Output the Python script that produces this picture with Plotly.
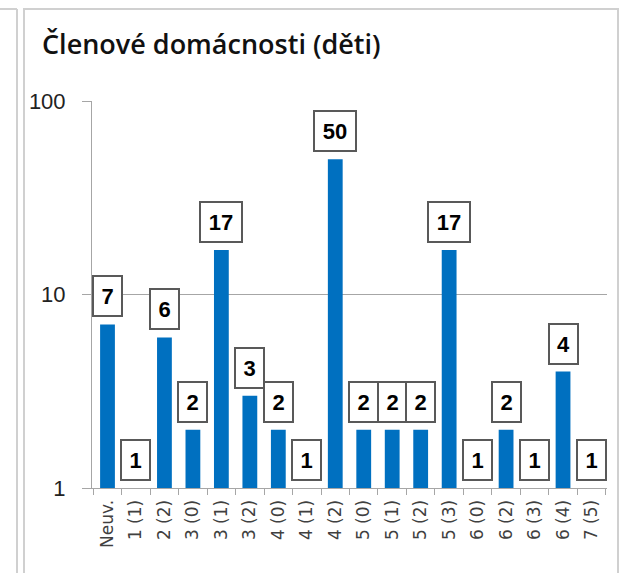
import math
import plotly.graph_objects as go

categories = ["Neuv.", "1 (1)", "2 (2)", "3 (0)", "3 (1)", "3 (2)", "4 (0)", "4 (1)", "4 (2)",
              "5 (0)", "5 (1)", "5 (2)", "5 (3)", "6 (0)", "6 (2)", "6 (3)", "6 (4)", "7 (5)"]
values = [7, 1, 6, 2, 17, 3, 2, 1, 50, 2, 2, 2, 17, 1, 2, 1, 4, 1]
ytick_vals = [1, 10, 100]
ytick_text = ["1", "10", "100"]
title_text = "Členové domácnosti (děti)"

W, H = 631, 573
ML, MR, MT, MB = 92, 24, 101, 85
PW, PH = W - ML - MR, H - MT - MB


def px(x):
    return (x - ML) / PW


def py(y):
    return (H - MB - y) / PH


fig = go.Figure()
fig.add_trace(go.Bar(x=categories, y=values, marker=dict(color="#0070c0", line=dict(width=0)),
                     hoverinfo="x+y"))

annotations = []
for c, v in zip(categories, values):
    s = str(v)
    annotations.append(dict(
        x=c, y=math.log10(v), xref="x", yref="y", text="<b>%s</b>" % s,
        showarrow=False, yanchor="bottom", xanchor="center", yshift=7,
        font=dict(family="Liberation Sans", size=22, color="#000000"),
        bgcolor="#ffffff", bordercolor="#595959", borderwidth=2, borderpad=0,
        width=27 if len(s) == 1 else 40, height=38,
    ))

annotations.append(dict(
    x=px(40), y=py(23), xref="paper", yref="paper", text=title_text,
    showarrow=False, xanchor="left", yanchor="top",
    font=dict(family="Open Sans", size=27, color="#111111", weight=600),
))

shapes = [
    dict(type="rect", xref="paper", yref="paper", x0=px(24), x1=px(618), y0=py(9), y1=py(600),
         line=dict(color="#d0d0d0", width=2), fillcolor="rgba(0,0,0,0)", layer="below"),
    dict(type="line", xref="paper", yref="paper", x0=px(-5), x1=px(17), y0=py(9), y1=py(9),
         line=dict(color="#d0d0d0", width=2)),
    dict(type="line", xref="paper", yref="paper", x0=px(17), x1=px(17), y0=py(9), y1=py(600),
         line=dict(color="#d0d0d0", width=2)),
]

fig.update_layout(
    width=W, height=H,
    margin=dict(l=ML, r=MR, t=MT, b=MB, pad=0),
    paper_bgcolor="#ffffff", plot_bgcolor="#ffffff",
    showlegend=False, bargap=0.48,
    annotations=annotations, shapes=shapes,
    xaxis=dict(
        type="category", tickson="boundaries", ticks="outside", ticklen=6,
        tickcolor="#a6a6a6", showline=True, linecolor="#a6a6a6", linewidth=1,
        showgrid=False, tickangle=-90,
        tickfont=dict(family="DejaVu Sans", size=17, color="#404040"),
        ticklabelstandoff=4,
    ),
    yaxis=dict(
        type="log", range=[0, 2], tickvals=ytick_vals, ticktext=ytick_text,
        ticks="outside", ticklen=9, tickcolor="#a6a6a6",
        showline=True, linecolor="#a6a6a6", linewidth=1,
        showgrid=True, gridcolor="#a6a6a6", gridwidth=1, zeroline=False,
        tickfont=dict(family="Liberation Sans", size=22, color="#222222"),
        ticklabelstandoff=12,
    ),
)

fig.write_html("out.html", config={"displayModeBar": False},
               post_script="document.body.style.margin='0';document.body.style.overflow='hidden';")
